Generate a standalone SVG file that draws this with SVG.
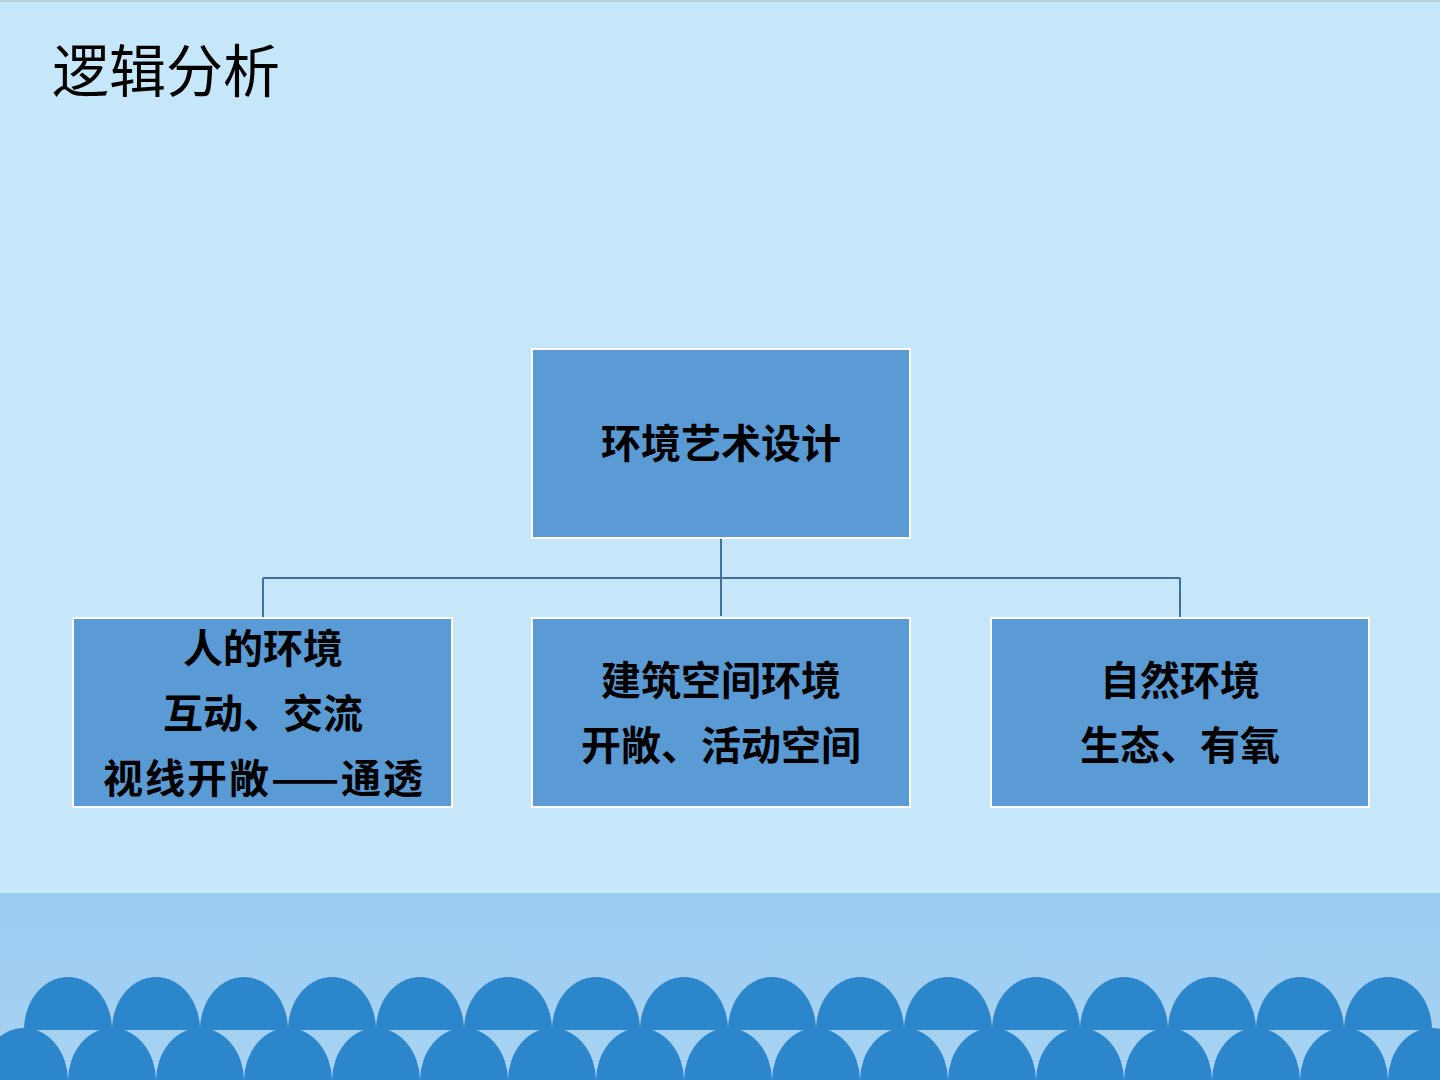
<svg xmlns="http://www.w3.org/2000/svg" width="1440" height="1080" viewBox="0 0 1440 1080">
<defs>
<style>
.node rect{fill:#5b9bd5;stroke:#ffffff;stroke-width:2}
.node text{font-family:"Noto Sans CJK SC","Noto Sans CJK TC",sans-serif;font-size:40px;font-weight:bold;fill:#000;text-anchor:middle}
.conn{stroke:#41719c;stroke-width:2;fill:none}
.dome{fill:#2b86cb}
</style>
<linearGradient id="band" x1="0" y1="0" x2="0" y2="1">
<stop offset="0" stop-color="#9ccbf0"/>
<stop offset="1" stop-color="#a8d3f3"/>
</linearGradient>
<path id="dTop" d="M-44,0 A44,53 0 0 1 44,0 Z"/>
<path id="dBot" d="M-44,53 A44,53 0 0 1 44,53 Z"/>
</defs>
<rect x="0" y="0" width="1440" height="1080" fill="#c6e7f9"/>
<rect x="0" y="0" width="1440" height="2" fill="#b8cfdc"/>
<rect x="0" y="893" width="1440" height="187" fill="url(#band)"/>
<g id="waves">
<g transform="translate(0,1028)">
<use href="#dBot" class="dome" x="24"/><use href="#dBot" class="dome" x="112"/><use href="#dBot" class="dome" x="200"/><use href="#dBot" class="dome" x="288"/><use href="#dBot" class="dome" x="376"/><use href="#dBot" class="dome" x="464"/><use href="#dBot" class="dome" x="552"/><use href="#dBot" class="dome" x="640"/><use href="#dBot" class="dome" x="728"/><use href="#dBot" class="dome" x="816"/><use href="#dBot" class="dome" x="904"/><use href="#dBot" class="dome" x="992"/><use href="#dBot" class="dome" x="1080"/><use href="#dBot" class="dome" x="1168"/><use href="#dBot" class="dome" x="1256"/><use href="#dBot" class="dome" x="1344"/><use href="#dBot" class="dome" x="1432"/>
</g>
<g transform="translate(0,1030)">
<use href="#dTop" class="dome" x="68"/><use href="#dTop" class="dome" x="156"/><use href="#dTop" class="dome" x="244"/><use href="#dTop" class="dome" x="332"/><use href="#dTop" class="dome" x="420"/><use href="#dTop" class="dome" x="508"/><use href="#dTop" class="dome" x="596"/><use href="#dTop" class="dome" x="684"/><use href="#dTop" class="dome" x="772"/><use href="#dTop" class="dome" x="860"/><use href="#dTop" class="dome" x="948"/><use href="#dTop" class="dome" x="1036"/><use href="#dTop" class="dome" x="1124"/><use href="#dTop" class="dome" x="1212"/><use href="#dTop" class="dome" x="1300"/><use href="#dTop" class="dome" x="1388"/>
</g>
</g>
<text id="title" x="52" y="92" font-family="'Noto Sans CJK SC','Noto Sans CJK TC',sans-serif" font-size="57" fill="#000">逻辑分析</text>
<g id="connectors">
<path class="conn" d="M721,539 V616"/>
<path class="conn" d="M263,578 H1180"/>
<path class="conn" d="M263,578 V617"/>
<path class="conn" d="M1180,578 V617"/>
</g>
<g id="root" class="node">
<rect x="532" y="349" width="378" height="189"/>
<text x="721" y="458">环境艺术设计</text>
</g>
<g id="human" class="node">
<rect x="73" y="618" width="379" height="189"/>
<text x="263" y="663">人的环境</text>
<text x="263" y="728">互动、交流</text>
<text x="263" y="793" textLength="320" lengthAdjust="spacing">视线开敞——通透</text>
</g>
<g id="building" class="node">
<rect x="532" y="618" width="378" height="189"/>
<text x="721" y="695">建筑空间环境</text>
<text x="721" y="760">开敞、活动空间</text>
</g>
<g id="nature" class="node">
<rect x="991" y="618" width="378" height="189"/>
<text x="1180" y="695">自然环境</text>
<text x="1180" y="760">生态、有氧</text>
</g>
</svg>
